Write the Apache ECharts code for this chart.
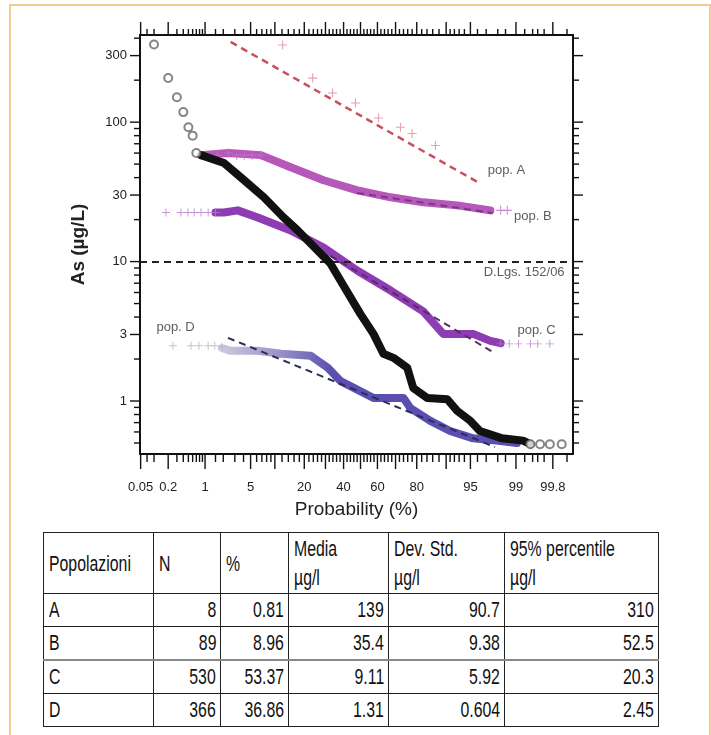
<!DOCTYPE html>
<html>
<head>
<meta charset="utf-8">
<script src="https://cdn.jsdelivr.net/npm/echarts@6/dist/echarts.min.js"></script>
<style>
    body{margin:0;background:#fff;}
    .page{position:relative;width:711px;height:735px;overflow:hidden;}
    .frame{position:absolute;left:9px;top:4px;width:698px;height:760px;border:2px solid #f2cc96;border-bottom:none;}
    #chart{position:absolute;left:0;top:0;width:711px;height:525px;}
    table.tab{position:absolute;left:43px;top:532px;width:615px;border-collapse:collapse;table-layout:fixed;
        font-family:"Liberation Sans",Arial,sans-serif;font-size:22px;color:#111;}
    table.tab td{border:1px solid #222;padding:0 4px 0 5px;height:32px;line-height:22px;overflow:visible;white-space:nowrap;}
    table.tab tr.head td{height:60px;line-height:29px;vertical-align:middle;}
    table.tab td.n{text-align:right;}
    table.tab tr.sep td{border-top:2px solid #888;}
    table.tab span{display:inline-block;transform:scaleX(0.72);transform-origin:left center;}
    table.tab td.n span{transform-origin:right center;}
</style>
</head>
<body>
<div class="page">
    <div class="frame"></div>
    <div id="chart"></div>
    <table class="tab" id="tab"></table>
</div>
<script>
    // asse x: probabilita' cumulata (%), asse y: As (ug/L)
    var xLabels = [0.05, 0.2, 1, 5, 20, 40, 60, 80, 95, 99, 99.8];
    var xMajor = [0.05, 0.2, 1, 5, 10, 20, 30, 40, 50, 60, 70, 80, 90, 95, 99, 99.8];
    var xMinor = [0.07, 0.1, 0.3, 0.4, 0.5, 0.6, 0.7, 0.8, 0.9, 1.5, 2, 3, 4, 6, 7, 8, 9, 12, 14, 16, 18,
        22, 24, 26, 28, 32, 34, 36, 38, 42, 44, 46, 48, 52, 54, 56, 58, 62, 64, 66, 68, 72, 74, 76, 78,
        82, 84, 86, 88, 91, 92, 93, 94, 96, 97, 98, 98.5, 99.3, 99.5, 99.6, 99.7, 99.9];
    var yLabels = [1, 3, 10, 30, 100, 300];
    var yMinor = [0.5, 0.6, 0.7, 0.8, 0.9, 2, 4, 5, 6, 7, 8, 9, 20, 40, 50, 60, 70, 80, 90, 200, 400];

    // tutti i dati (cerchi): punti isolati agli estremi e banda nera
    var allCircles = [[0.1, 360], [0.2, 207], [0.3, 151], [0.4, 118], [0.5, 92], [0.6, 80], [0.7, 60],
        [99.45, 0.49], [99.64, 0.49], [99.77, 0.49], [99.87, 0.49]];
    var allBand = [[0.85, 58], [2.05, 51], [3.7, 40], [7.4, 28.9], [12.5, 20.7], [17.4, 16.7], [26, 12],
        [32.6, 9.7], [40, 6.7], [50, 4.2], [57.7, 3.03], [63.4, 2.18], [68.9, 2.04], [75.8, 1.73],
        [78.5, 1.24], [84.1, 1.05], [90.3, 1.03], [92.6, 0.85], [95, 0.72], [96.3, 0.61], [98.3, 0.54],
        [99.25, 0.52], [99.45, 0.49]];

    // pop. A
    var popA = [[12.2, 358], [23.7, 207], [33.8, 162], [47, 137], [60.6, 107], [72.5, 92], [78, 83], [86.9, 68]];
    var fitA = [[2.6, 376], [96.3, 36.4]];
    // pop. B
    var popBCross = [[1.6, 58], [2.4, 60], [3.2, 58], [4.1, 58], [5.2, 58], [6.8, 58], [98.2, 23.3], [98.6, 23.3]];
    var popBBand = [[0.85, 58], [2.4, 60], [6.8, 58], [14.8, 47.5], [29, 38.3], [48.2, 32.4], [67.4, 28.9],
        [82.6, 26.6], [92.6, 25.3], [97.4, 23.3]];
    var fitB = [[48, 31], [97.6, 22.3]];
    // pop. C
    var popCCross = [[0.18, 22.5], [0.36, 22.5], [0.49, 22.5], [0.64, 22.5], [0.85, 22.5], [1.13, 22.5], [1.5, 22.5],
        [98.2, 2.57], [98.7, 2.57], [99.1, 2.57], [99.45, 2.57], [99.6, 2.57], [99.77, 2.57]];
    var popCBand = [[1.5, 22.5], [2.05, 22.5], [3.3, 23.3], [6.2, 20.7], [14.8, 16.7], [29, 12.6], [48.2, 8.6],
        [67.4, 6.2], [82.6, 4.4], [89.2, 3.03], [95.4, 3.03], [97.4, 2.7], [98.2, 2.6]];
    var fitC = [[32.7, 11.0], [97.6, 2.25]];
    // pop. D
    var popDCross = [[0.25, 2.49], [0.56, 2.49], [0.78, 2.49], [1.13, 2.49], [1.46, 2.49], [1.9, 2.45]];
    var popDBand = [[1.9, 2.4], [2.6, 2.29], [6.2, 2.29], [11.7, 2.18], [22.8, 2.11], [31.2, 1.73], [38.2, 1.39],
        [44, 1.28], [57.7, 1.05], [74, 1.05], [77.2, 0.89], [85.2, 0.72], [91, 0.61], [95.4, 0.54],
        [97.9, 0.52], [99.04, 0.5]];
    var fitD = [[2.36, 2.84], [97.8, 0.467]];

    var limitDLgs = 10;
    var notes = [
        {name: 'pop. A', value: [97.1, 45], align: 'left'},
        {name: 'pop. B', value: [98.9, 21.1], align: 'left'},
        {name: 'D.Lgs. 152/06', value: [99.89, 8.3], align: 'right'},
        {name: 'pop. C', value: [99.83, 3.19], align: 'right'},
        {name: 'pop. D', value: [0.11, 3.35], align: 'left'}
    ];

    var tabHead = ['Popolazioni', 'N', '%', 'Media<br>µg/l', 'Dev. Std.<br>µg/l', '95% percentile<br>µg/l'];
    var tabPop = ['A', 'B', 'C', 'D'];
    var tabN = ['8', '89', '530', '366'];
    var tabPerc = ['0.81', '8.96', '53.37', '36.86'];
    var tabMedia = ['139', '35.4', '9.11', '1.31'];
    var tabDev = ['90.7', '9.38', '5.92', '0.604'];
    var tabP95 = ['310', '52.5', '20.3', '2.45'];
    var colW = [110, 67, 68, 100, 116, 154];

    // inversa della normale standard (Acklam)
    function probit(pp){
        var p = pp / 100;
        var a = [-39.69683028665376, 220.9460984245205, -275.9285104469687, 138.3577518672690, -30.66479806614716, 2.506628277459239];
        var b = [-54.47609879822406, 161.5858368580409, -155.6989798598866, 66.80131188771972, -13.28068155288572];
        var c = [-0.007784894002430293, -0.3223964580411365, -2.400758277161838, -2.549732975351384, 4.374664141464968, 2.938163982698783];
        var d = [0.007784695709041462, 0.3224671290700398, 2.445134137142996, 3.754408145737161];
        var q, r;
        if (p < 0.02425) {
            q = Math.sqrt(-2 * Math.log(p));
            return (((((c[0]*q+c[1])*q+c[2])*q+c[3])*q+c[4])*q+c[5]) / ((((d[0]*q+d[1])*q+d[2])*q+d[3])*q+1);
        }
        if (p > 1 - 0.02425) {
            q = Math.sqrt(-2 * Math.log(1 - p));
            return -(((((c[0]*q+c[1])*q+c[2])*q+c[3])*q+c[4])*q+c[5]) / ((((d[0]*q+d[1])*q+d[2])*q+d[3])*q+1);
        }
        q = p - 0.5; r = q * q;
        return (((((a[0]*r+a[1])*r+a[2])*r+a[3])*r+a[4])*r+a[5])*q / (((((b[0]*r+b[1])*r+b[2])*r+b[3])*r+b[4])*r+1);
    }
    function tr(arr){
        return arr.map(function (it) { return [probit(it[0]), Math.log10(it[1])]; });
    }

    var xMin = -3.30, xMax = 3.18, yMin = -0.38, yMax = 2.625;
    var xLabPos = xLabels.map(probit);
    var yLabPos = yLabels.map(function (v) { return Math.log10(v); });
    var font = 'Liberation Sans, Arial, sans-serif';

    function nearest(list, pos, v){
        var k = 0;
        for (var i = 1; i < pos.length; i++) {
            if (Math.abs(pos[i] - v) < Math.abs(pos[k] - v)) k = i;
        }
        return String(list[k]);
    }
    function xAx(pos, labels){
        return {
            type: 'value', position: pos, min: xMin, max: xMax,
            splitLine: {show: false},
            axisLine: {show: true, onZero: false, lineStyle: {color: '#111', width: 2}},
            axisTick: {show: false},
            axisLabel: labels ? {
                show: true, customValues: xLabPos, margin: 27, color: '#222', fontSize: 13, fontFamily: font,
                formatter: function (v) { return nearest(xLabels, xLabPos, v); }
            } : {show: false},
            name: labels ? 'Probability (%)' : '', nameLocation: 'middle', nameGap: 46,
            nameTextStyle: {fontSize: 19, color: '#222', fontFamily: font}
        };
    }
    function yAx(pos, labels){
        return {
            type: 'value', position: pos, min: yMin, max: yMax,
            splitLine: {show: false},
            axisLine: {show: true, onZero: false, lineStyle: {color: '#111', width: 2}},
            axisTick: {show: false},
            axisLabel: labels ? {
                show: true, customValues: yLabPos, margin: 13, color: '#222', fontSize: 13, fontFamily: font,
                formatter: function (v) { return nearest(yLabels, yLabPos, v); }
            } : {show: false},
            name: labels ? 'As (µg/L)' : '', nameLocation: 'middle', nameGap: 52,
            nameTextStyle: {fontSize: 19, fontWeight: 'bold', color: '#222', fontFamily: font}
        };
    }
    function cross(){
        return 'path://M-1,-0.12H1V0.12H-1Z M-0.12,-1H0.12V1H-0.12Z';
    }
    function band(data, color, z){
        return {type: 'line', data: tr(data), symbol: 'none', z: z, silent: true,
            lineStyle: {color: color, width: 8, cap: 'round', join: 'round'}};
    }
    function fit(data, color, w){
        return {type: 'line', data: tr(data), symbol: 'none', z: 6, silent: true,
            lineStyle: {color: color, width: w, type: [7, 5]}};
    }
    function crosses(data, color, size, z){
        return {type: 'scatter', data: tr(data), symbol: cross(), symbolSize: size, z: z, silent: true,
            itemStyle: {color: color}};
    }

    // tacche su tutti e quattro i lati: [asse, valore trasformato, lunghezza]
    var tickData = [];
    xMajor.forEach(function (p) { tickData.push([0, probit(p), 1]); });
    xMinor.forEach(function (p) { tickData.push([0, probit(p), 0]); });
    yLabels.forEach(function (v) { tickData.push([1, Math.log10(v), 1]); });
    yMinor.forEach(function (v) { tickData.push([1, Math.log10(v), 0]); });

    function renderTick(params, api){
        var isX = api.value(0) === 0, v = api.value(1), major = api.value(2) === 1;
        var st = {stroke: '#111', lineWidth: 1.4};
        var a, b, la, lb;
        if (isX) {
            a = api.coord([v, yMin]); b = api.coord([v, yMax]);
            la = major ? 15 : 8; lb = major ? 13 : 6;
            return {type: 'group', children: [
                {type: 'line', shape: {x1: a[0], y1: a[1], x2: a[0], y2: a[1] + la}, style: st},
                {type: 'line', shape: {x1: b[0], y1: b[1], x2: b[0], y2: b[1] - lb}, style: st}
            ]};
        }
        a = api.coord([xMin, v]); b = api.coord([xMax, v]);
        la = major ? 10 : 6;
        return {type: 'group', children: [
            {type: 'line', shape: {x1: a[0], y1: a[1], x2: a[0] - la, y2: a[1]}, style: st},
            {type: 'line', shape: {x1: b[0], y1: b[1], x2: b[0] + la, y2: b[1]}, style: st}
        ]};
    }

    var el = document.getElementById('chart');
    var myChart = echarts.init(el);
    var option = {
        animation: false,
        grid: {left: 140, top: 35, width: 433, height: 419},
        xAxis: [xAx('bottom', true), xAx('top', false)],
        yAxis: [yAx('left', true), yAx('right', false)],
        series: [
            {
                type: 'custom', data: tickData, renderItem: renderTick, clip: false, silent: true, z: 8,
                encode: {x: 1, y: 1}
            },
            {
                type: 'line', data: [], z: 1,
                markLine: {
                    silent: true, symbol: 'none', label: {show: false},
                    lineStyle: {color: '#222', width: 2, type: [7, 5]},
                    data: [{yAxis: Math.log10(limitDLgs)}]
                }
            },
            band(popDBand, new echarts.graphic.LinearGradient(0, 0, 1, 0, [
                {offset: 0, color: '#d0cde0'}, {offset: 0.2, color: '#9a94c8'},
                {offset: 0.38, color: '#5a4fb0'}, {offset: 1, color: '#5a4fb0'}]), 2),
            crosses(popDCross, '#b4b2c4', 8, 2),
            fit(fitD, '#2e2c5a', 2),
            band(popCBand, '#8e3cb4', 3),
            crosses(popCCross, '#b57ccc', 8, 3),
            fit(fitC, '#5a2a6a', 2),
            band(popBBand, '#b558ba', 3),
            crosses(popBCross, '#c070c8', 9, 3),
            fit(fitB, '#7a3a80', 2),
            fit(fitA, '#c8505c', 2.5),
            crosses(popA, '#e08a96', 9, 4),
            band(allBand, '#111', 5),
            {type: 'scatter', data: tr(allCircles), symbol: 'emptyCircle', symbolSize: 8, z: 5, silent: true,
                itemStyle: {color: '#666', borderWidth: 1}},
            {
                type: 'scatter', symbol: 'circle', symbolSize: 1, z: 7, silent: true,
                itemStyle: {color: 'rgba(0,0,0,0)'},
                data: notes.map(function (n) {
                    return {
                        name: n.name, value: [probit(n.value[0]), Math.log10(n.value[1])],
                        label: {show: true, formatter: n.name, position: n.align === 'left' ? 'right' : 'left',
                            distance: 0, color: '#333', fontSize: 13, fontFamily: font,
                            textBorderColor: '#fff', textBorderWidth: 2}
                    };
                })
            }
        ]
    };
    myChart.setOption(option);

    // tabella
    var html = '<colgroup>';
    colW.forEach(function (w) { html += '<col style="width:' + w + 'px">'; });
    html += '</colgroup><tr class="head">';
    tabHead.forEach(function (h) { html += '<td><span>' + h + '</span></td>'; });
    html += '</tr>';
    tabPop.forEach(function (p, i) {
        html += '<tr' + (i === 2 ? ' class="sep"' : '') + '><td><span>' + p + '</span></td>' +
            '<td class="n"><span>' + tabN[i] + '</span></td><td class="n"><span>' + tabPerc[i] + '</span></td>' +
            '<td class="n"><span>' + tabMedia[i] + '</span></td><td class="n"><span>' + tabDev[i] + '</span></td>' +
            '<td class="n"><span>' + tabP95[i] + '</span></td></tr>';
    });
    document.getElementById('tab').innerHTML = html;
</script>
</body>
</html>
